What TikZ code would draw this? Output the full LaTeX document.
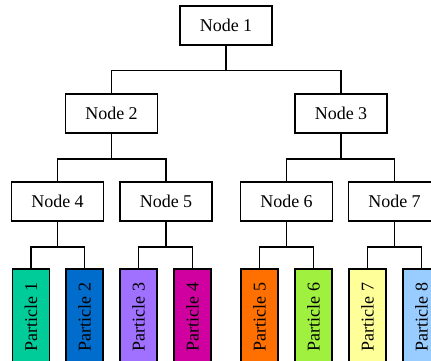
\documentclass[tikz,border=0pt]{standalone}
\usepackage{fontspec}
\setmainfont{Liberation Serif}
\usepackage{tikz}

\definecolor{pteal}{HTML}{00CC99}
\definecolor{pblue}{HTML}{006CCC}
\definecolor{plilac}{HTML}{A070FF}
\definecolor{pmagenta}{HTML}{D000A0}
\definecolor{porange}{HTML}{FF7000}
\definecolor{plime}{HTML}{A0F040}
\definecolor{pyellow}{HTML}{FFFF99}
\definecolor{psky}{HTML}{99CCFF}

\tikzset{
  treenode/.style={draw, line width=1.5pt, minimum width=92pt, minimum height=39pt,
    inner sep=0pt, font=\fontsize{18}{20}\selectfont},
  particle/.style={draw, line width=1.5pt, minimum width=37pt, minimum height=96pt,
    inner sep=0pt, font=\fontsize{18}{20}\selectfont},
  branch/.style={line width=1.5pt,
    to path={(\tikztostart.south) -- ++(0,25) -| (\tikztotarget.north)}}
}

\begin{document}
\begin{tikzpicture}[x=1pt, y=-1pt]
  \useasboundingbox (0,0) rectangle (431,361);

  % inner nodes
  \node[treenode] (n1) at (226,25.5)  {Node 1};
  \node[treenode] (n2) at (111.5,113.5) {Node 2};
  \node[treenode] (n3) at (341,113.5) {Node 3};
  \node[treenode] (n4) at (57.5,201.5) {Node 4};
  \node[treenode] (n5) at (166,201.5) {Node 5};
  \node[treenode] (n6) at (286.5,201.5) {Node 6};
  \node[treenode] (n7) at (394.5,201.5) {Node 7};

  % leaves
  \node[particle, fill=pteal]    (p1) at (31,317)    {\rotatebox{90}{Particle 1}};
  \node[particle, fill=pblue]    (p2) at (84.5,317)  {\rotatebox{90}{Particle 2}};
  \node[particle, fill=plilac]   (p3) at (138.5,317) {\rotatebox{90}{Particle 3}};
  \node[particle, fill=pmagenta] (p4) at (192.5,317) {\rotatebox{90}{Particle 4}};
  \node[particle, fill=porange]  (p5) at (259.5,317) {\rotatebox{90}{Particle 5}};
  \node[particle, fill=plime]    (p6) at (313.5,317) {\rotatebox{90}{Particle 6}};
  \node[particle, fill=pyellow]  (p7) at (367.5,317) {\rotatebox{90}{Particle 7}};
  \node[particle, fill=psky]     (p8) at (421.5,317) {\rotatebox{90}{Particle 8}};

  \path[branch]
  (n1) edge (n2)
       edge (n3)
  (n2) edge (n4)
       edge (n5)
  (n3) edge (n6)
       edge (n7)
  (n4) edge (p1)
       edge (p2)
  (n5) edge (p3)
       edge (p4)
  (n6) edge (p5)
       edge (p6)
  (n7) edge (p7)
       edge (p8);
\end{tikzpicture}
\end{document}
